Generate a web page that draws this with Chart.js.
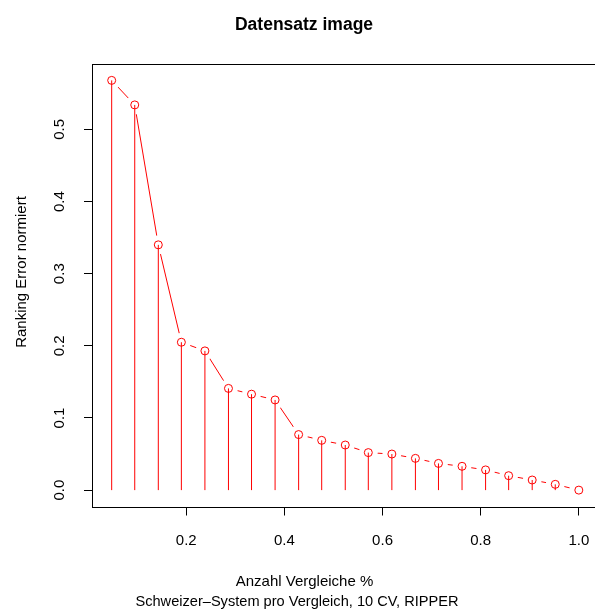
<!DOCTYPE html>
<html lang="de">
<head>
    <meta charset="UTF-8">
    <title>Datensatz image</title>
    <script src="https://cdn.jsdelivr.net/npm/chart.js"></script>
    <style>
        body { margin: 0; overflow: hidden; background: #fff; }
        #box { position: absolute; left: 0; top: 0; width: 607px; height: 610px; }
    </style>
</head>
<body>
    <div id="box">
        <canvas id="grafico" width="607" height="610"></canvas>
    </div>

    <script>
// Anzahl Vergleiche (Anteil) und normierter Ranking Error
const anteile = [0.048, 0.095, 0.143, 0.190, 0.238, 0.286, 0.333, 0.381, 0.429, 0.476, 0.524,
                 0.571, 0.619, 0.667, 0.714, 0.762, 0.810, 0.857, 0.905, 0.952, 1.000];
const fehler = [0.568, 0.534, 0.340, 0.205, 0.193, 0.141, 0.133, 0.125, 0.077, 0.069, 0.0625,
                0.052, 0.050, 0.044, 0.037, 0.033, 0.028, 0.020, 0.014, 0.008, 0.000];
const xTicks = [0.2, 0.4, 0.6, 0.8, 1.0];
const yTicks = [0.0, 0.1, 0.2, 0.3, 0.4, 0.5];

const titel = 'Datensatz image';
const xTitel = 'Anzahl Vergleiche %';
const untertitel = 'Schweizer\u2013System pro Vergleich, 10 CV, RIPPER';
const yTitel = 'Ranking Error normiert';

const ROT = '#ff0000';
const FONT = '"Liberation Sans", Arial, Helvetica, sans-serif';

// Achsenbereich wie in R (4% Rand)
const xMinD = Math.min(...anteile), xMaxD = Math.max(...anteile);
const yMinD = Math.min(...fehler), yMaxD = Math.max(...fehler);
const xRand = (xMaxD - xMinD) * 0.04;
const yRand = (yMaxD - yMinD) * 0.04;

const punkte = anteile.map((x, i) => ({ x: x, y: fehler[i] }));

// vertikale Linien (type = "h")
const staebe = [];
anteile.forEach((x, i) => {
    staebe.push({ x: x, y: 0 });
    staebe.push({ x: x, y: fehler[i] });
    staebe.push({ x: x, y: null });
});

// Rahmen und Texte ausserhalb der Achsen
const rahmenPlugin = {
    id: 'rahmen',
    afterDraw(chart) {
        const ctx = chart.ctx;
        const a = chart.chartArea;
        ctx.save();
        ctx.strokeStyle = '#000';
        ctx.lineWidth = 1;
        ctx.strokeRect(Math.round(a.left) - 0.5, Math.round(a.top) + 0.5,
                       Math.round(a.right - a.left) + 1, Math.round(a.bottom - a.top));

        ctx.fillStyle = '#000';
        ctx.textAlign = 'center';
        ctx.textBaseline = 'middle';
        ctx.font = 'bold 17.5px ' + FONT;
        ctx.fillText(titel, 304, 25);

        ctx.font = '15px ' + FONT;
        ctx.fillText(xTitel, 304.5, 582);
        ctx.font = '14.6px ' + FONT;
        ctx.fillText(untertitel, 297, 602);

        ctx.font = '15px ' + FONT;
        ctx.translate(22, 272);
        ctx.rotate(-Math.PI / 2);
        ctx.fillText(yTitel, 0, 0);
        ctx.restore();
    }
};

const ctx = document.getElementById('grafico').getContext('2d');

new Chart(ctx, {
    type: 'scatter',
    data: {
        datasets: [
            {
                // Kreise
                data: punkte,
                showLine: false,
                pointStyle: 'circle',
                pointRadius: 4,
                pointBorderWidth: 1,
                pointBorderColor: ROT,
                pointBackgroundColor: 'rgba(0,0,0,0)',
                order: 0
            },
            {
                // Staebe
                data: staebe,
                showLine: true,
                spanGaps: false,
                borderColor: ROT,
                borderWidth: 1,
                pointRadius: 0,
                order: 1
            },
            {
                // Luecken um die Punkte (type = "b")
                data: punkte,
                showLine: false,
                pointRadius: 9.5,
                pointBorderWidth: 0,
                pointBorderColor: '#fff',
                pointBackgroundColor: '#fff',
                order: 2
            },
            {
                // Verbindungslinie
                data: punkte,
                showLine: true,
                borderColor: ROT,
                borderWidth: 1,
                pointRadius: 0,
                tension: 0,
                order: 3
            }
        ]
    },
    options: {
        responsive: false,
        animation: false,
        devicePixelRatio: 1,
        layout: { padding: { left: 0, top: 64, right: 3, bottom: 0 } },
        plugins: {
            legend: { display: false },
            tooltip: { enabled: false },
            title: { display: false }
        },
        scales: {
            x: {
                type: 'linear',
                min: xMinD - xRand,
                max: xMaxD + xRand,
                afterBuildTicks: (s) => { s.ticks = xTicks.map(v => ({ value: v })); },
                afterFit: (s) => { s.height = 103.5; },
                border: { display: false },
                grid: { drawOnChartArea: false, drawTicks: true, tickLength: 9, color: '#000', tickColor: '#000' },
                ticks: {
                    color: '#000',
                    font: { family: FONT, size: 15 },
                    padding: 16,
                    maxRotation: 0,
                    callback: (v) => Number(v).toFixed(1)
                }
            },
            y: {
                type: 'linear',
                min: yMinD - yRand,
                max: yMaxD + yRand,
                afterBuildTicks: (s) => { s.ticks = yTicks.map(v => ({ value: v })); },
                afterFit: (s) => { s.width = 93; },
                border: { display: false },
                grid: { drawOnChartArea: false, drawTicks: true, tickLength: 9, color: '#000', tickColor: '#000' },
                ticks: {
                    color: '#000',
                    font: { family: FONT, size: 15 },
                    padding: 13.5,
                    minRotation: 90,
                    maxRotation: 90,
                    crossAlign: 'center',
                    callback: (v) => Number(v).toFixed(1)
                }
            }
        }
    },
    plugins: [rahmenPlugin]
});
    </script>
</body>
</html>
